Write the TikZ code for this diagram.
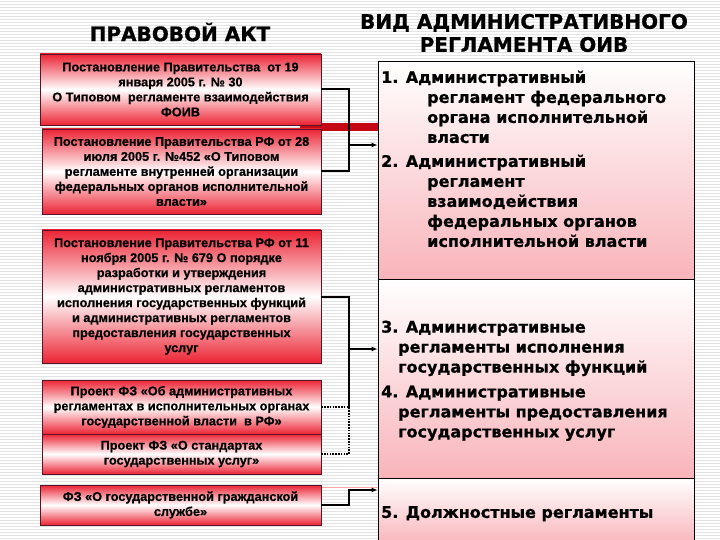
\documentclass[tikz,border=0pt]{standalone}
\usepackage{fontspec}
\setmainfont{Liberation Sans}[BoldFeatures={FakeBold=0.6}]
\newfontfamily\regfont{DejaVu Sans}[BoldFeatures={FakeBold=0.8}]
\usetikzlibrary{arrows.meta, positioning}
\definecolor{actRed}{RGB}{236, 36, 52}
\definecolor{actEdge}{RGB}{90, 20, 40}
\definecolor{regPink}{RGB}{248, 180, 186}
\definecolor{barRed}{RGB}{196, 8, 20}

\begin{document}
\begin{tikzpicture}[x=1pt, y=-1pt,
  act/.style={rectangle, draw=actEdge, line width=0.8pt,
              top color=actRed, bottom color=actRed, middle color=white,
              minimum width=280pt, align=center, inner sep=0pt,
              font=\fontsize{12.7}{15}\selectfont\bfseries},
  reg/.style={rectangle, draw=black, line width=0.8pt,
              top color=white, bottom color=regPink,
              minimum width=316pt, inner sep=0pt},
  regtxt/.style={anchor=north west, inner sep=0pt, align=left,
                 font=\regfont\fontsize{16}{20}\selectfont\bfseries},
  hdr/.style={font=\regfont\fontsize{20}{23}\selectfont\bfseries,
              align=center, inner sep=0pt},
  lnk/.style={line width=2pt},
  dlnk/.style={line width=2pt, dash pattern=on 1.6pt off 1.2pt},
  >={Latex[length=6pt,width=5pt]}
]
  \useasboundingbox (0,0) rectangle (720,540);

  %% striped background
  \fill[white] (0,0) rectangle (720,540);
  \foreach \y in {1.5,4.5,...,540}
    \draw[gray!22, line width=1pt] (0,\y) -- (720,\y);

  %% decoration lines
  \fill[barRed] (300,123) rectangle (378,131);
  \draw[red!35, line width=0.8pt] (321,487) -- (378,487);

  %% titles
  \node[hdr] (hAct) at (180,32) {ПРАВОВОЙ АКТ};
  \node[hdr] (hReg) at (524,33) {ВИД АДМИНИСТРАТИВНОГО\\РЕГЛАМЕНТА ОИВ};

  %% legal acts (left)
  \node[act, minimum width=281pt, minimum height=71pt] (b1) at (180.5,89.5)
    {Постановление Правительства\ \ от 19\\января 2005 г. № 30\\О Типовом\ \ регламенте взаимодействия\\ФОИВ};
  \node[act, minimum width=279pt, minimum height=85pt] (b2) at (181.5,171.5)
    {Постановление Правительства РФ от 28\\июля 2005 г. №452 «О Типовом\\регламенте внутренней организации\\федеральных органов исполнительной\\власти»};
  \node[act, minimum width=279pt, minimum height=133pt] (b3) at (181.5,296.5)
    {Постановление Правительства РФ от 11\\ноября 2005 г. № 679 О порядке\\разработки и утверждения\\административных регламентов\\исполнения государственных функций\\и административных регламентов\\предоставления государственных\\услуг};
  \node[act, minimum width=279pt, minimum height=54pt] (b4) at (181.5,407)
    {Проект ФЗ «Об административных\\регламентах в исполнительных органах\\государственной власти\ \ в РФ»};
  \node[act, minimum width=279pt, minimum height=40pt] (b5) at (181.5,454)
    {Проект ФЗ «О стандартах\\государственных услуг»};
  \node[act, minimum width=281pt, minimum height=40pt] (b6) at (180.5,505)
    {ФЗ «О государственной гражданской\\службе»};

  %% kinds of regulations (right)
  \node[reg, minimum height=218pt] (sec1) at (536,170) {};
  \node[reg, minimum height=199pt] (sec2) at (536,378.5) {};
  \node[reg, minimum height=67pt]  (sec3) at (536,511.5) {};

  \node[regtxt] (r1) at (381,70.5)
    {1. Административный\\\hspace*{46pt}регламент федерального\\\hspace*{46pt}органа исполнительной\\\hspace*{46pt}власти};
  \node[regtxt] (r2) at (381,154.5)
    {2. Административный\\\hspace*{46pt}регламент\\\hspace*{46pt}взаимодействия\\\hspace*{46pt}федеральных органов\\\hspace*{46pt}исполнительной власти};
  \node[regtxt] (r3) at (381,320.5)
    {3. Административные\\\hspace*{17pt}регламенты исполнения\\\hspace*{17pt}государственных функций};
  \node[regtxt] (r4) at (381,385.5)
    {4. Административные\\\hspace*{17pt}регламенты предоставления\\\hspace*{17pt}государственных услуг};
  \node[regtxt] (r5) at (381,506)
    {5. Должностные регламенты};

  %% connectors
  \coordinate (j1) at (349,145);
  \coordinate (j2) at (349,349);
  \coordinate (j3) at (349,490);

  \draw[lnk] (b1.east) -| (j1) |- (b2.east);
  \draw[lnk,->] (j1) -- (j1 -| sec1.west);

  \draw[lnk] (b3.east) -| (j2) -- (j2 |- b4.east);
  \draw[dlnk] (b4.east) -| (j2 |- b5.east) -- (b5.east);
  \draw[lnk,->] (j2) -- (j2 -| sec2.west);

  \draw[lnk,->] (b6.east) -| (j3) -- (j3 -| sec3.west);

\end{tikzpicture}
\end{document}
